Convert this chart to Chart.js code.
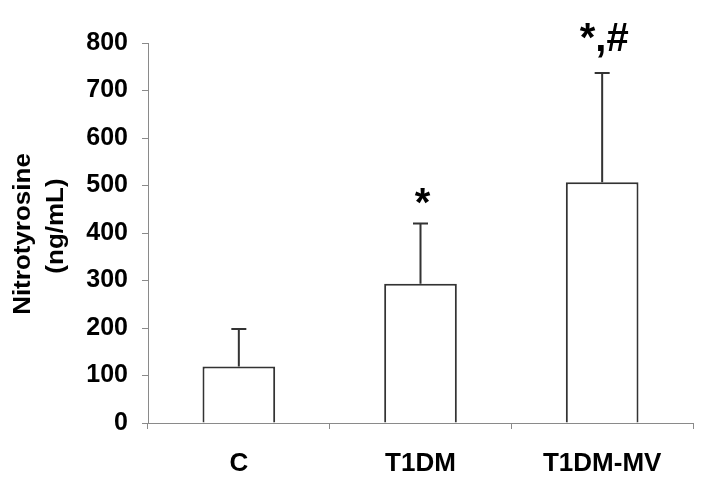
<!DOCTYPE html>
<html>
<head>
<meta charset="utf-8">
<script src="https://cdn.jsdelivr.net/npm/chart.js@4"></script>
<style>
  html, body { margin: 0; padding: 0; background: #fff; }
  #wrap { width: 702px; height: 477px; position: relative; }
</style>
</head>
<body>
<div id="wrap"><canvas id="nitroChart"></canvas></div>
<script>
const categories = ['C', 'T1DM', 'T1DM-MV'];
const means = [119, 293, 507];
const errors = [79, 127, 230];
const marks = ['', '*', '*,#'];
const yTicks = [0, 100, 200, 300, 400, 500, 600, 700, 800];

const axisGray = '#8a8a8a';
const fontFam = '"Liberation Sans", Arial, sans-serif';
const markGap = [0, 8, 22];   // px between error cap and mark baseline

// error bars + significance marks, drawn through the scales
const errorBarPlugin = {
    id: 'errorBars',
    afterDatasetsDraw(chart) {
        const ctx = chart.ctx;
        const x = chart.scales.x, y = chart.scales.y;
        ctx.save();
        ctx.strokeStyle = '#333';
        ctx.lineWidth = 2;
        for (let i = 0; i < means.length; i++) {
            const cx = x.getPixelForValue(i);
            const top = y.getPixelForValue(means[i] + errors[i]);
            const base = y.getPixelForValue(means[i]);
            ctx.beginPath();
            ctx.moveTo(cx, base);
            ctx.lineTo(cx, top);
            ctx.moveTo(cx - 7.5, top);
            ctx.lineTo(cx + 7.5, top);
            ctx.stroke();
            if (marks[i]) {
                ctx.fillStyle = '#000';
                ctx.font = 'bold 40px ' + fontFam;
                ctx.textAlign = 'center';
                ctx.textBaseline = 'alphabetic';
                ctx.fillText(marks[i], cx + 2, top - markGap[i]);
            }
        }
        ctx.restore();

        // y title, two rotated lines
        ctx.save();
        ctx.fillStyle = '#000';
        ctx.font = 'bold 23px ' + fontFam;
        ctx.textAlign = 'center';
        ctx.textBaseline = 'alphabetic';
        [['Nitrotyrosine', 30, 234], ['(ng/mL)', 63, 226]].forEach(([txt, tx, ty]) => {
            ctx.save();
            ctx.translate(tx, ty);
            ctx.rotate(-Math.PI / 2);
            ctx.scale(1.13, 1);
            ctx.fillText(txt, 0, 0);
            ctx.restore();
        });
        ctx.restore();
    }
};

new Chart('nitroChart', {
    type: 'bar',
    data: {
        labels: categories,
        datasets: [{
            data: means,
            backgroundColor: '#fff',
            borderColor: '#333',
            borderWidth: 2,
            barPercentage: 0.4,
            categoryPercentage: 1
        }]
    },
    options: {
        responsive: true,
        maintainAspectRatio: false,
        animation: false,
        layout: { padding: { top: 43, right: 9, left: 0, bottom: 0 } },
        plugins: { legend: { display: false }, tooltip: { enabled: false } },
        scales: {
            x: {
                grid: { drawOnChartArea: false, tickLength: 6, color: axisGray, offset: true },
                border: { color: axisGray, width: 1 },
                ticks: { color: '#000', padding: 19, font: { family: fontFam, size: 26, weight: 'bold' } },
                afterFit: s => { s.height = 54; }
            },
            y: {
                min: 0,
                max: 800,
                afterBuildTicks: s => { s.ticks = yTicks.map(v => ({ value: v })); },
                grid: { drawOnChartArea: false, tickLength: 6, color: axisGray },
                border: { color: axisGray, width: 1 },
                ticks: { color: '#000', padding: 14, font: { family: fontFam, size: 25, weight: 'bold' } },
                afterFit: s => { s.width = 148; }
            }
        }
    },
    plugins: [errorBarPlugin]
});
</script>
</body>
</html>
